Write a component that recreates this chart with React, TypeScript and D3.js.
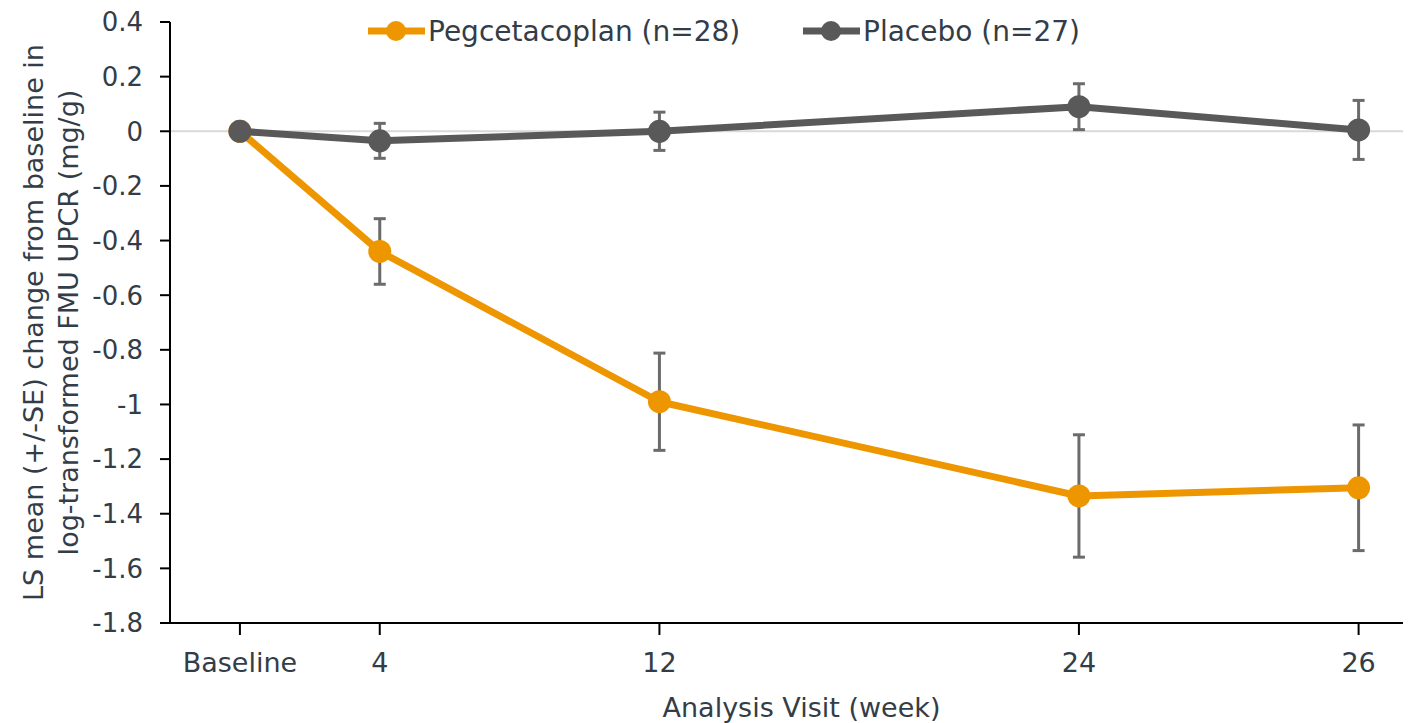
import React, { useEffect, useRef } from "react";
import * as d3 from "d3";

// visits (plotted on a week-like axis, last visit sits further right)
const visitLabels = ["Baseline", "4", "12", "24", "26"];
const visitPos = [0, 4, 12, 24, 32];

const pegMean = [0, -0.44, -0.99, -1.335, -1.305];
const pegSE = [0, 0.12, 0.178, 0.224, 0.23];

const placeboMean = [0, -0.035, 0.0, 0.09, 0.005];
const placeboSE = [0, 0.064, 0.07, 0.084, 0.108];

const yTicks = [0.4, 0.2, 0, -0.2, -0.4, -0.6, -0.8, -1, -1.2, -1.4, -1.6, -1.8];

const FONT = "'DejaVu Sans', sans-serif";
const TEXT = "#333d47";

const App = () => {
  const ref = useRef<SVGSVGElement>(null);

  useEffect(() => {
    const svg = d3.select(ref.current);
    svg.selectAll("*").remove();

    const left = 170;
    const right = 1403;
    const top = 22;
    const bottom = 623;

    const x = d3.scaleLinear().domain([-2, 33.27]).range([left, right]);
    const y = d3.scaleLinear().domain([-1.8, 0.4]).range([bottom, top]);

    const series = [
      { name: "Pegcetacoplan (n=28)", color: "#EE9600", mean: pegMean, se: pegSE, lx: 368 },
      { name: "Placebo (n=27)", color: "#595959", mean: placeboMean, se: placeboSE, lx: 803 },
    ];

    // zero reference line
    svg
      .append("line")
      .attr("x1", left)
      .attr("x2", right)
      .attr("y1", y(0))
      .attr("y2", y(0))
      .attr("stroke", "#d9d9d9")
      .attr("stroke-width", 2);

    // y axis
    const yAxis = svg.append("g");
    yAxis
      .append("line")
      .attr("x1", left)
      .attr("x2", left)
      .attr("y1", top)
      .attr("y2", bottom)
      .attr("stroke", "#000")
      .attr("stroke-width", 2);
    yAxis
      .selectAll(".ytick")
      .data(yTicks)
      .enter()
      .append("line")
      .attr("x1", left - 10)
      .attr("x2", left)
      .attr("y1", (d) => y(d))
      .attr("y2", (d) => y(d))
      .attr("stroke", "#000")
      .attr("stroke-width", 2);
    yAxis
      .selectAll(".ylabel")
      .data(yTicks)
      .enter()
      .append("text")
      .attr("x", left - 27)
      .attr("y", (d) => y(d))
      .attr("dy", "0.36em")
      .attr("text-anchor", "end")
      .style("font-family", FONT)
      .style("font-size", "26px")
      .style("fill", TEXT)
      .text((d) => String(+d.toFixed(1)));

    // x axis
    const xAxis = svg.append("g");
    xAxis
      .append("line")
      .attr("x1", left - 10)
      .attr("x2", right)
      .attr("y1", bottom)
      .attr("y2", bottom)
      .attr("stroke", "#000")
      .attr("stroke-width", 2);
    xAxis
      .selectAll(".xtick")
      .data(visitPos)
      .enter()
      .append("line")
      .attr("x1", (d) => x(d))
      .attr("x2", (d) => x(d))
      .attr("y1", bottom)
      .attr("y2", bottom + 12)
      .attr("stroke", "#000")
      .attr("stroke-width", 2);
    xAxis
      .selectAll(".xlabel")
      .data(visitPos)
      .enter()
      .append("text")
      .attr("x", (d) => x(d))
      .attr("y", 672)
      .attr("text-anchor", "middle")
      .style("font-family", FONT)
      .style("font-size", "27px")
      .style("fill", TEXT)
      .text((d, i) => visitLabels[i]);

    // axis titles
    svg
      .append("text")
      .attr("x", (left + right) / 2 + 15)
      .attr("y", 717)
      .attr("text-anchor", "middle")
      .style("font-family", FONT)
      .style("font-size", "27px")
      .style("fill", TEXT)
      .text("Analysis Visit (week)");

    const yTitle = svg
      .append("text")
      .attr("transform", `translate(0, ${(top + bottom) / 2}) rotate(-90)`)
      .attr("text-anchor", "middle")
      .style("font-family", FONT)
      .style("font-size", "27px")
      .style("fill", TEXT);
    yTitle.append("tspan").attr("x", 0).attr("y", 43).text("LS mean (+/-SE) change from baseline in");
    yTitle.append("tspan").attr("x", 0).attr("y", 78).text("log-transformed FMU UPCR (mg/g)");

    // error bars (behind lines/markers)
    series.forEach((s) => {
      const g = svg.append("g");
      const pts = s.mean.map((m, i) => ({ x: visitPos[i], m, se: s.se[i] })).filter((p) => p.se > 0);
      g.selectAll("line.v")
        .data(pts)
        .enter()
        .append("line")
        .attr("x1", (d) => x(d.x))
        .attr("x2", (d) => x(d.x))
        .attr("y1", (d) => y(d.m + d.se))
        .attr("y2", (d) => y(d.m - d.se))
        .attr("stroke", "#6b6b6b")
        .attr("stroke-width", 3);
      [1, -1].forEach((sign) => {
        g.selectAll(`line.c${sign}`)
          .data(pts)
          .enter()
          .append("line")
          .attr("x1", (d) => x(d.x) - 6)
          .attr("x2", (d) => x(d.x) + 6)
          .attr("y1", (d) => y(d.m + sign * d.se))
          .attr("y2", (d) => y(d.m + sign * d.se))
          .attr("stroke", "#6b6b6b")
          .attr("stroke-width", 3);
      });
    });

    // lines + markers
    const line = d3
      .line<number>()
      .x((d, i) => x(visitPos[i]))
      .y((d) => y(d));

    series.forEach((s) => {
      svg
        .append("path")
        .datum(s.mean)
        .attr("d", line)
        .attr("fill", "none")
        .attr("stroke", s.color)
        .attr("stroke-width", 7)
        .attr("stroke-linejoin", "round");
      svg
        .selectAll(null)
        .data(s.mean)
        .enter()
        .append("circle")
        .attr("cx", (d, i) => x(visitPos[i]))
        .attr("cy", (d) => y(d))
        .attr("r", 11.5)
        .attr("fill", s.color);

      // legend
      const lg = svg.append("g");
      lg.append("line")
        .attr("x1", s.lx)
        .attr("x2", s.lx + 57)
        .attr("y1", 31)
        .attr("y2", 31)
        .attr("stroke", s.color)
        .attr("stroke-width", 7);
      lg.append("circle").attr("cx", s.lx + 28).attr("cy", 31).attr("r", 10).attr("fill", s.color);
      lg.append("text")
        .attr("x", s.lx + 60)
        .attr("y", 41)
        .style("font-family", FONT)
        .style("font-size", "28px")
        .style("fill", TEXT)
        .text(s.name);
    });
  }, []);

  return (
    <svg
      ref={ref}
      width={1411}
      height={723}
      style={{ position: "absolute", left: 0, top: 0, background: "#fff" }}
    />
  );
};

export default App;
